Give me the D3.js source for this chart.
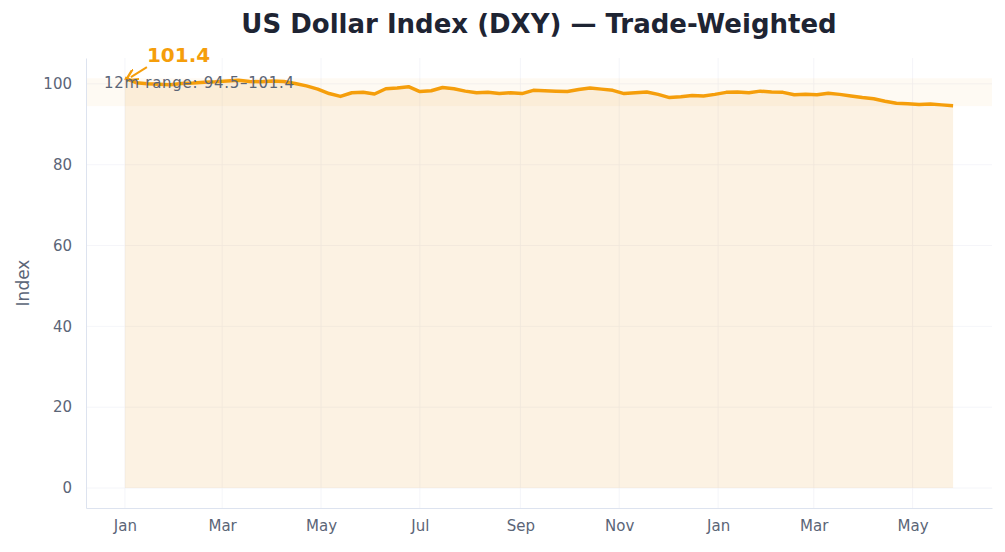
<!DOCTYPE html>
<html><head><meta charset="utf-8">
<script src="https://cdn.jsdelivr.net/npm/d3@7"></script>
<style>body{margin:0;background:#fff;font-family:"DejaVu Sans",sans-serif}</style>
</head><body><svg id="c" width="1005" height="552"></svg>
<script>
const startDate = "2024-01-01";
const values = [101.4,100.3,100.0,99.9,99.8,100.1,100.2,100.4,100.5,100.7,100.9,100.6,100.5,100.7,100.6,100.1,99.5,98.7,97.6,96.9,97.8,97.9,97.5,98.8,99.0,99.3,98.1,98.3,99.1,98.8,98.2,97.8,97.9,97.6,97.8,97.6,98.4,98.3,98.2,98.1,98.6,99.0,98.7,98.4,97.6,97.8,98.0,97.4,96.6,96.8,97.1,97.0,97.4,97.9,98.0,97.8,98.2,98.0,97.9,97.3,97.4,97.3,97.7,97.4,97.0,96.6,96.3,95.7,95.2,95.1,94.9,95.0,94.8,94.6];
const yTicks = [0,20,40,60,80,100];
const rangeLow = 94.5, rangeHigh = 101.4;
const title = "US Dollar Index (DXY) — Trade-Weighted";

const t0 = new Date(startDate+"T00:00:00");
const data = values.map((v,i)=>({d:d3.timeDay.offset(t0,i*7),v}));
const svg = d3.select("#c");
const L=86,R=992,T=58,B=508;
const x = d3.scaleTime().domain([new Date("2023-12-08"),new Date("2025-06-19")]).range([L,R]);
const y = d3.scaleLinear().domain([-4.95,106.4]).range([B,T]);
const orange="#f59e0b", grey="#5b6577";

svg.append("g").selectAll("line").data(yTicks).join("line")
 .attr("x1",L).attr("x2",R).attr("y1",d=>y(d)).attr("y2",d=>y(d)).attr("stroke","#f1f3f7").attr("stroke-width",0.8);
const xt = d3.timeMonth.every(2).range(new Date("2024-01-01"),new Date("2025-06-01"));
svg.append("g").selectAll("line").data(xt).join("line")
 .attr("x1",d=>x(d)).attr("x2",d=>x(d)).attr("y1",T).attr("y2",B).attr("stroke","#f1f3f7").attr("stroke-width",0.8);

svg.append("rect").attr("x",L).attr("width",R-L).attr("y",y(rangeHigh)).attr("height",y(rangeLow)-y(rangeHigh))
 .attr("fill","#e8a63a").attr("opacity",0.06);
svg.append("path").datum(data).attr("fill","#e8a63a").attr("opacity",0.14)
 .attr("d",d3.area().x(d=>x(d.d)).y0(y(0)).y1(d=>y(d.v)));
svg.append("path").datum(data).attr("fill","none").attr("stroke",orange).attr("stroke-width",3.5).attr("stroke-linejoin","round")
 .attr("d",d3.line().x(d=>x(d.d)).y(d=>y(d.v)));

const ya = svg.append("g").attr("transform",`translate(${L},0)`).call(d3.axisLeft(y).tickValues(yTicks).tickSize(0).tickPadding(14));
const xa = svg.append("g").attr("transform",`translate(0,${B})`).call(d3.axisBottom(x).tickValues(xt).tickSize(0).tickPadding(12).tickFormat(d3.timeFormat("%b")));
[ya,xa].forEach(g=>{g.select(".domain").attr("stroke","#dde3ef");g.selectAll("text").attr("fill",grey).attr("font-size",15).attr("font-family","DejaVu Sans");});

svg.append("text").attr("x",(L+R)/2).attr("y",33).attr("text-anchor","middle").attr("font-size",26).attr("font-weight","bold").attr("fill","#1e2433").text(title);
svg.append("text").attr("transform",`translate(29,${(T+B)/2}) rotate(-90)`).attr("text-anchor","middle").attr("font-size",17).attr("fill",grey).text("Index");

const p0 = data[0];
svg.append("text").attr("x",x(p0.d)+22).attr("y",y(p0.v)-16).attr("font-size",20).attr("font-weight","bold").attr("fill",orange).text(d3.format(".1f")(p0.v));
svg.append("defs").append("marker").attr("id","ah").attr("viewBox","0 0 10 10").attr("refX",5).attr("refY",5).attr("markerWidth",6).attr("markerHeight",6).attr("orient","auto")
 .append("path").attr("d","M0,0 L10,5 L0,10").attr("fill","none").attr("stroke",orange).attr("stroke-width",2);
svg.append("line").attr("x1",x(p0.d)+22).attr("y1",y(p0.v)-11).attr("x2",x(p0.d)+6).attr("y2",y(p0.v)-1).attr("stroke",orange).attr("stroke-width",2).attr("marker-end","url(#ah)");
svg.append("text").attr("x",104).attr("y",88).attr("font-size",15).attr("textLength",190).attr("fill",grey).text(`12m range: ${rangeLow}–${rangeHigh}`);
</script></body></html>
